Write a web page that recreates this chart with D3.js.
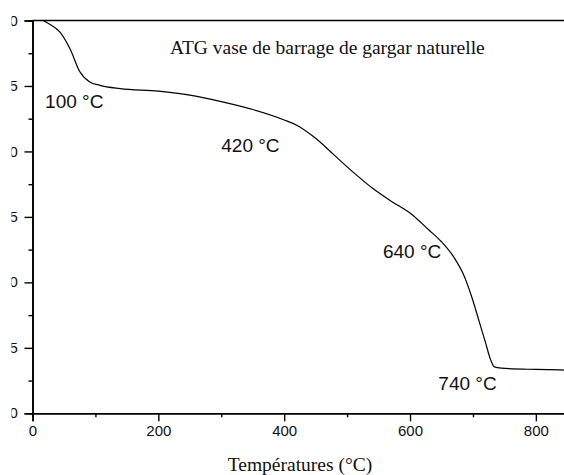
<!DOCTYPE html>
<html>
<head>
<meta charset="utf-8">
<script src="https://cdn.jsdelivr.net/npm/d3@7"></script>
<style>
  html, body { margin: 0; padding: 0; background: #fff; }
  svg { display: block; }
</style>
</head>
<body>
<script>
// Data (temperature °C, mass %)
const temperatures = [17, 28, 44, 60, 75, 91, 107, 139, 200, 250, 300, 350, 400, 420, 450, 480, 510, 540, 570, 600, 630, 650, 670, 685, 698, 710, 720, 728, 734, 745, 800, 850];
const masses       = [100, 99.7, 99.1, 97.8, 96.1, 95.3, 95.05, 94.8, 94.6, 94.3, 93.8, 93.2, 92.4, 92.0, 91.0, 89.7, 88.4, 87.2, 86.2, 85.3, 84.0, 83.1, 81.9, 80.6, 78.9, 77.0, 75.4, 74.1, 73.55, 73.45, 73.35, 73.3];
const xTicks = [0, 200, 400, 600, 800];
const xMinorTicks = [100, 300, 500, 700];
const yTicks = [100, 95, 90, 85, 80, 75, 70];
const yMinorTicks = [97.5, 92.5, 87.5, 82.5, 77.5, 72.5];
const annotations = [
  { text: "100 °C", t: 20, m: 93.29 },
  { text: "420 °C", t: 300, m: 89.95 },
  { text: "640 °C", t: 557, m: 81.86 },
  { text: "740 °C", t: 645, m: 71.77 }
];
const titleText = "ATG vase de barrage de gargar naturelle";
const xLabel = "Températures (°C)";

const W = 564, H = 475;
const svg = d3.select("body").append("svg").attr("width", W).attr("height", H);

const x = d3.scaleLinear().domain([0, 900]).range([32.5, 32.5 + 900 * 0.6292]);
const y = d3.scaleLinear().domain([70, 100]).range([413.3, 20.5]);

// clip for y tick labels (their left part is cut in the reference)
svg.append("defs").append("clipPath").attr("id", "lblclip")
  .append("rect").attr("x", 11.5).attr("y", 0).attr("width", W).attr("height", H);

// x axis
const xAxis = svg.append("g").attr("transform", `translate(0,${y(70)})`)
  .call(d3.axisBottom(x).tickValues(xTicks).tickSize(8).tickPadding(4).tickFormat(d3.format("d")));
const xMinor = svg.append("g").attr("transform", `translate(0,${y(70)})`)
  .call(d3.axisBottom(x).tickValues(xMinorTicks).tickSize(4).tickFormat(""));

// y axis (labels drawn separately with clipping)
const yAxis = svg.append("g").attr("transform", `translate(${x(0)},0)`)
  .call(d3.axisLeft(y).tickValues(yTicks).tickSize(8).tickFormat(""));
const yMinor = svg.append("g").attr("transform", `translate(${x(0)},0)`)
  .call(d3.axisLeft(y).tickValues(yMinorTicks).tickSize(4).tickFormat(""));

[xAxis, xMinor, yAxis, yMinor].forEach(g => {
  g.select(".domain").attr("stroke", "#000").attr("stroke-width", 1.6);
  g.selectAll(".tick line").attr("stroke", "#000").attr("stroke-width", 1.4);
  g.selectAll("text").attr("fill", "#111").style("font-family", "Liberation Sans, Arial, sans-serif").style("font-size", "15px");
});

const lblGroup = svg.append("g").attr("clip-path", "url(#lblclip)");
lblGroup.selectAll("text").data(yTicks).enter().append("text")
  .attr("x", 17.8).attr("y", d => y(d)).attr("dy", "0.34em")
  .attr("text-anchor", "end")
  .style("font-family", "Liberation Sans, Arial, sans-serif").style("font-size", "15px")
  .attr("fill", "#111").text(d => d3.format("d")(d));

// top border
svg.append("line").attr("x1", x(0)).attr("x2", x(900)).attr("y1", y(100)).attr("y2", y(100))
  .attr("stroke", "#000").attr("stroke-width", 1.6);

// curve
const pts = temperatures.map((t, i) => [t, masses[i]]);
svg.append("path").datum(pts)
  .attr("fill", "none").attr("stroke", "#000").attr("stroke-width", 1.2)
  .attr("d", d3.line().x(d => x(d[0])).y(d => y(d[1])).curve(d3.curveMonotoneX));

// annotations
svg.selectAll("text.ann").data(annotations).enter().append("text")
  .attr("class", "ann")
  .attr("x", d => x(d.t)).attr("y", d => y(d.m))
  .style("font-family", "Liberation Sans, Arial, sans-serif").style("font-size", "19px")
  .attr("fill", "#111").text(d => d.text);

// title
svg.append("text").attr("x", 170).attr("y", 53.5)
  .style("font-family", "Liberation Serif, Times New Roman, serif").style("font-size", "19.5px")
  .attr("fill", "#111").text(titleText);

// x label
svg.append("text").attr("x", 300).attr("y", 471).attr("text-anchor", "middle")
  .style("font-family", "Liberation Serif, Times New Roman, serif").style("font-size", "19.5px")
  .attr("fill", "#111").text(xLabel);
</script>
</body>
</html>
